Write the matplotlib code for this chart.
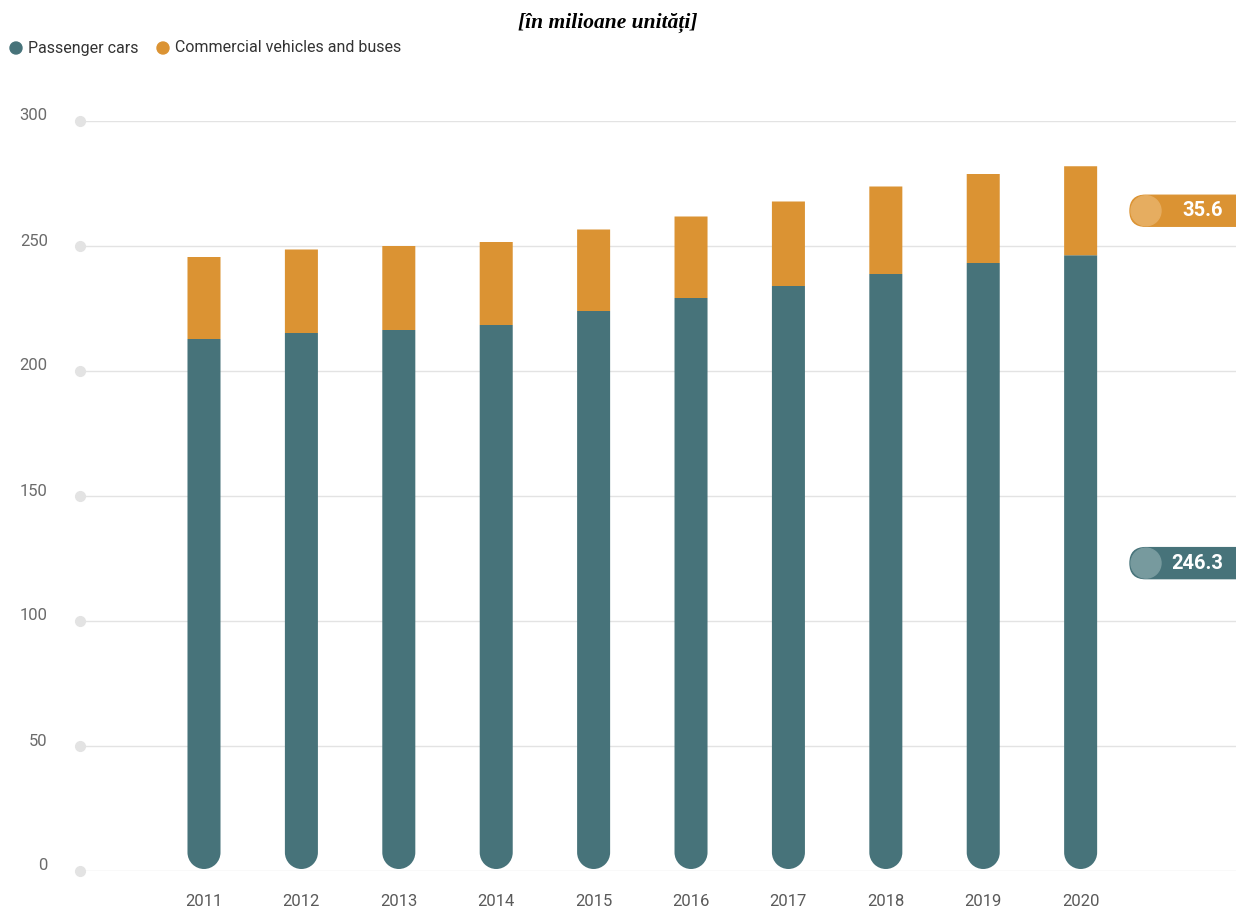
import numpy as np
import matplotlib
matplotlib.use('Agg')
import matplotlib.pyplot as plt
from matplotlib.patches import FancyBboxPatch, Circle, PathPatch
from matplotlib.path import Path
from matplotlib.transforms import IdentityTransform

years = ['2011', '2012', '2013', '2014', '2015', '2016', '2017', '2018', '2019', '2020']
passenger = [212.8, 215.2, 216.4, 218.4, 224.0, 229.2, 234.0, 238.8, 243.2, 246.3]
commercial = [32.8, 33.4, 33.6, 33.2, 32.6, 32.6, 33.8, 35.0, 35.6, 35.6]
yticks = [0, 50, 100, 150, 200, 250, 300]

teal = '#47737A'
orange = '#DB9333'
teal_light = '#779A9E'
orange_light = '#E6AD60'
grid_col = '#E3E3E3'
label_font = ['Roboto', 'DejaVu Sans']

fig = plt.figure(figsize=(12.36, 9.11), dpi=100)
# axes: y=0 at 871px, y=300 at 121px; left edge at the grid dots
ax = fig.add_axes([80 / 1236, 1 - 871 / 911, 1 - 80 / 1236, 750 / 911])
xmin, xmax = -1.273, 10.595
ax.set_xlim(xmin, xmax)
ax.set_ylim(0, 300)
ax.axis('off')

x = np.arange(len(years))
width = 0.339

# grid lines and dots
for t in yticks:
    ax.axhline(t, color=grid_col, lw=1, zorder=0)
    ax.plot([xmin], [t], 'o', color=grid_col, ms=7, clip_on=False, zorder=1)
    ax.text(xmin - 0.33, t + 2, str(t), ha='right', va='center', fontsize=12,
            color='#6B6B6B', family=label_font)

pas = np.array(passenger)
com = np.array(commercial)

# pixels per data unit, so the bottom cap is a true half circle
px_x = 1156 / (xmax - xmin)
px_y = 750 / 300
r_y = (width / 2) * px_x / px_y
base = 0.8  # cap sits just above the zero line


def rounded_bar(xc, top):
    arc = Path.arc(180, 360)
    verts = arc.vertices * [width / 2, r_y] + [xc, base + r_y]
    codes = list(arc.codes)
    verts = np.vstack([verts, [[xc + width / 2, top], [xc - width / 2, top],
                               [xc - width / 2, base + r_y]]])
    codes += [Path.LINETO, Path.LINETO, Path.CLOSEPOLY]
    return Path(verts, codes)


# passenger bars: one path each, flat top, round bottom
for xi, p in zip(x, pas):
    ax.add_patch(PathPatch(rounded_bar(xi, p), color=teal, lw=0, clip_on=False,
                           snap=False, zorder=3))
bars_c = ax.bar(x, com, bottom=pas, width=width, color=orange, lw=0, zorder=4)
for b in bars_c:
    b.set_snap(False)

for xi, yl in zip(x, years):
    ax.text(xi, -12, yl, ha='center', va='center', fontsize=12, color='#5A5A5A',
            family=label_font)

# value badges for the last year
fig.canvas.draw()
badges = [(pas[-1] / 2, passenger[-1], teal, teal_light),
          (pas[-1] + com[-1] / 2, commercial[-1], orange, orange_light)]
for ymid, val, col, col_l in badges:
    ypx = ax.transData.transform((0, ymid))[1]
    pill = FancyBboxPatch((1130, ypx - 15.5), 140, 31,
                          boxstyle='round,pad=0,rounding_size=15.5',
                          transform=IdentityTransform(), color=col, zorder=5)
    fig.patches.append(pill)
    circ = Circle((1146, ypx), 15, transform=IdentityTransform(), color=col_l, zorder=6)
    fig.patches.append(circ)
    fig.text(1223 / 1236, ypx / 911, f'{val:.1f}', ha='right', va='center',
             fontsize=14.5, fontweight='bold', color='white', family=label_font, zorder=7)

# title and legend
fig.text(608 / 1236, 1 - 23 / 911, '[în milioane unități]', ha='center', va='center',
         fontsize=15.5, fontstyle='italic', fontweight='bold', family='Liberation Serif')
fig.patches.append(Circle((16, 911 - 48), 6, transform=IdentityTransform(), color=teal))
fig.text(28 / 1236, 1 - 48 / 911, 'Passenger cars', ha='left', va='center',
         fontsize=11.5, color='#333333', family=label_font)
fig.patches.append(Circle((163, 911 - 48), 6, transform=IdentityTransform(), color=orange))
fig.text(175 / 1236, 1 - 48 / 911, 'Commercial vehicles and buses', ha='left', va='center',
         fontsize=11.5, color='#333333', family=label_font)

fig.savefig('out.png', dpi=100)
